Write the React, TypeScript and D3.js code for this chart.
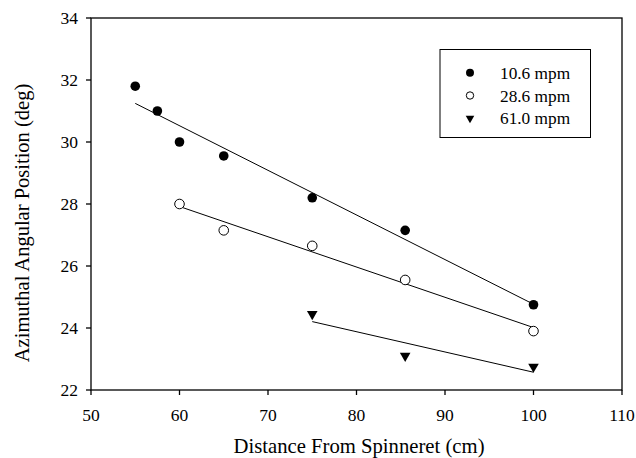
import React from "react";
import * as d3 from "d3";

const xTicks = [50, 60, 70, 80, 90, 100, 110];
const yTicks = [22, 24, 26, 28, 30, 32, 34];

const seriesNames = ["10.6 mpm", "28.6 mpm", "61.0 mpm"];
const x106 = [55, 57.5, 60, 65, 75, 85.5, 100];
const y106 = [31.8, 31.0, 30.0, 29.55, 28.2, 27.15, 24.75];
const x286 = [60, 65, 75, 85.5, 100];
const y286 = [28.0, 27.15, 26.65, 25.55, 23.9];
const x610 = [75, 85.5, 100];
const y610 = [24.45, 23.1, 22.75];

const W = 636;
const H = 458;
const FONT = "'Liberation Serif', 'Times New Roman', serif";

function fit(xs: number[], ys: number[]) {
  const mx = d3.mean(xs)!;
  const my = d3.mean(ys)!;
  let sxy = 0, sxx = 0;
  xs.forEach((x, i) => {
    sxy += (x - mx) * (ys[i] - my);
    sxx += (x - mx) * (x - mx);
  });
  const b = sxy / sxx;
  const a = my - b * mx;
  const x0 = d3.min(xs)!;
  const x1 = d3.max(xs)!;
  return [
    [x0, a + b * x0],
    [x1, a + b * x1],
  ] as [number, number][];
}

export default function App() {
  const x = d3.scaleLinear().domain([50, 110]).range([91, 622]);
  const y = d3.scaleLinear().domain([22, 34]).range([390, 18]);
  const line = d3
    .line<[number, number]>()
    .x((d) => x(d[0]))
    .y((d) => y(d[1]));

  const series = [
    { xs: x106, ys: y106, kind: "filled" },
    { xs: x286, ys: y286, kind: "open" },
    { xs: x610, ys: y610, kind: "tri" },
  ];

  const marker = (kind: string, cx: number, cy: number, s: number, key: string) => {
    if (kind === "filled") return <circle key={key} cx={cx} cy={cy} r={s} fill="#000" />;
    if (kind === "open")
      return <circle key={key} cx={cx} cy={cy} r={s} fill="#fff" stroke="#000" strokeWidth={1} />;
    const side = s * 2;
    const t = d3.symbol(d3.symbolTriangle, (Math.sqrt(3) / 4) * side * side)();
    return <path key={key} d={t || ""} transform={`translate(${cx},${cy}) rotate(180)`} fill="#000" />;
  };

  return (
    <div style={{ position: "absolute", left: 0, top: 0 }}>
      <svg width={W} height={H} style={{ display: "block", background: "#fff" }}>
        <rect x={0} y={0} width={W} height={H} fill="#fff" />
        {/* frame */}
        <rect x={x(50)} y={y(34)} width={x(110) - x(50)} height={y(22) - y(34)} fill="none" stroke="#000" strokeWidth={1.3} />
        {/* x ticks */}
        {xTicks.map((t) => (
          <g key={"xt" + t}>
            <line x1={x(t)} x2={x(t)} y1={y(22)} y2={y(22) + 5} stroke="#000" strokeWidth={1.3} />
            <text x={x(t)} y={421} textAnchor="middle" fontFamily={FONT} fontSize={17.5} fill="#000">
              {t}
            </text>
          </g>
        ))}
        {yTicks.map((t) => (
          <g key={"yt" + t}>
            <line x1={x(50) - 5} x2={x(50)} y1={y(t)} y2={y(t)} stroke="#000" strokeWidth={1.3} />
            <text x={78} y={y(t) + 6} textAnchor="end" fontFamily={FONT} fontSize={17.5} fill="#000">
              {t}
            </text>
          </g>
        ))}
        {/* axis titles */}
        <text x={359} y={453} textAnchor="middle" fontFamily={FONT} fontSize={20.7} fill="#000">
          Distance From Spinneret (cm)
        </text>
        <text
          transform={`translate(29,223) rotate(-90)`}
          textAnchor="middle"
          fontFamily={FONT}
          fontSize={20.5}
          fill="#000"
        >
          Azimuthal Angular Position (deg)
        </text>
        {/* regression lines */}
        {series.map((s, i) => (
          <path key={"l" + i} d={line(fit(s.xs, s.ys)) || ""} fill="none" stroke="#000" strokeWidth={1} />
        ))}
        {/* points */}
        {series.map((s, i) =>
          s.xs.map((xv, j) => marker(s.kind, x(xv), y(s.ys[j]), s.kind === "tri" ? 5.3 : 4.8, `p${i}-${j}`))
        )}
        {/* legend */}
        <rect x={440} y={49.5} width={150.5} height={88} fill="#fff" stroke="#000" strokeWidth={1} />
        {series.map((s, i) => (
          <g key={"lg" + i}>
            {marker(s.kind, 470, 72.7 + i * 22.8, s.kind === "open" ? 3.7 : s.kind === "tri" ? 4.3 : 4, "lm" + i)}
            <text x={500} y={72.7 + i * 22.8 + 6} fontFamily={FONT} fontSize={17.3} fill="#000">
              {seriesNames[i]}
            </text>
          </g>
        ))}
      </svg>
    </div>
  );
}
